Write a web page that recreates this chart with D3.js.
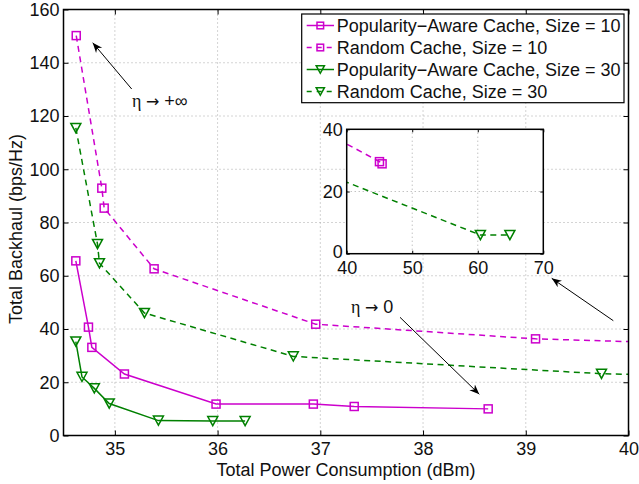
<!DOCTYPE html>
<html><head><meta charset="utf-8">
<script src="https://cdn.jsdelivr.net/npm/d3@7"></script>
<style>body{margin:0;background:#fff}text{font-family:"Liberation Sans",Arial,sans-serif;fill:#111}</style>
</head><body><svg id="c" width="639" height="484"></svg>
<script>
// ---- data ----
const xTicks = [35, 36, 37, 38, 39, 40];
const yTicks = [0, 20, 40, 60, 80, 100, 120, 140, 160];
const insetXTicks = [40, 50, 60, 70];
const insetYTicks = [0, 20, 40];
const popAware10X = [34.62, 34.743, 34.776, 35.093, 35.985, 36.932, 37.33, 38.634];
const popAware10Y = [65.6, 40.7, 33.1, 23.1, 11.8, 11.8, 10.9, 10.0];
const random10X = [34.624, 34.873, 34.896, 35.382, 36.955, 39.095, 45.0, 45.4];
const random10Y = [150.2, 92.9, 85.4, 62.6, 41.8, 36.3, 29.6, 28.9];
const popAware30X = [34.62, 34.68, 34.80, 34.945, 35.424, 35.953, 36.268];
const popAware30Y = [35.3, 22.0, 17.7, 12.0, 5.6, 5.4, 5.4];
const random30X = [34.62, 34.831, 34.85, 35.288, 36.737, 39.737, 60.4, 64.9];
const random30Y = [115.5, 71.9, 64.7, 46.0, 29.7, 23.2, 6.0, 6.0];
const seriesNames = ["Popularity\u2212Aware Cache, Size = 10", "Random Cache, Size = 10",
                     "Popularity\u2212Aware Cache, Size = 30", "Random Cache, Size = 30"];

const MAG = "#cc00cc", GRN = "#008000";
const DASH = "6,4.5";
const series = [
  {name: seriesNames[0], xs: popAware10X, ys: popAware10Y, color: MAG, dash: null, marker: "square"},
  {name: seriesNames[1], xs: random10X, ys: random10Y, color: MAG, dash: DASH, marker: "square"},
  {name: seriesNames[2], xs: popAware30X, ys: popAware30Y, color: GRN, dash: null, marker: "tri"},
  {name: seriesNames[3], xs: random30X, ys: random30Y, color: GRN, dash: DASH, marker: "tri"}
];

const svg = d3.select("#c");
const defs = svg.append("defs");
defs.append("marker").attr("id","ah").attr("viewBox","0 0 10 10").attr("refX",10).attr("refY",5)
  .attr("markerWidth",10).attr("markerHeight",10).attr("markerUnits","userSpaceOnUse").attr("orient","auto")
  .append("path").attr("d","M0,1 L10,5 L0,9 L3,5 Z").attr("fill","#000");

function drawMarker(g, kind, color, x, y, s) {
  if (kind === "square") {
    g.append("rect").attr("x", x - s).attr("y", y - s).attr("width", 2*s).attr("height", 2*s)
      .attr("fill","none").attr("stroke",color).attr("stroke-width",1.5);
  } else {
    const w = s*1.25, h = s*1.15;
    g.append("path").attr("d",`M${x-w},${y-h} L${x+w},${y-h} L${x},${y+h} Z`)
      .attr("fill","none").attr("stroke",color).attr("stroke-width",1.5);
  }
}

function drawAxes(opt) {
  const {x, y, xt, yt, clipId, tickLen, data, xPad} = opt;
  const [x0, x1] = x.range(), [y0, y1] = y.range();
  const g = svg.append("g");
  g.append("rect").attr("x",x0).attr("y",y1).attr("width",x1-x0).attr("height",y0-y1).attr("fill","#fff");
  defs.append("clipPath").attr("id",clipId).append("rect")
    .attr("x",x0).attr("y",y1).attr("width",x1-x0).attr("height",y0-y1);
  // grid
  xt.forEach(v => { if (v > x.domain()[0] && v < x.domain()[1])
    g.append("line").attr("x1",x(v)).attr("x2",x(v)).attr("y1",y0).attr("y2",y1)
      .attr("stroke","#a8a8a8").attr("stroke-width",1).attr("stroke-dasharray","1,3"); });
  yt.forEach(v => { if (v > y.domain()[0] && v < y.domain()[1])
    g.append("line").attr("x1",x0).attr("x2",x1).attr("y1",y(v)).attr("y2",y(v))
      .attr("stroke","#a8a8a8").attr("stroke-width",1).attr("stroke-dasharray","1,3"); });
  // data
  const dg = g.append("g").attr("clip-path",`url(#${clipId})`);
  const [dx0, dx1] = x.domain(), [dy0, dy1] = y.domain();
  data.forEach(s => {
    const pts = s.xs.map((v,i)=>[v, s.ys[i]]);
    dg.append("path").attr("d", d3.line().x(d=>x(d[0])).y(d=>y(d[1]))(pts))
      .attr("fill","none").attr("stroke",s.color).attr("stroke-width",1.5)
      .attr("stroke-dasharray", s.dash);
    pts.filter(p => p[0] >= dx0 && p[0] <= dx1 && p[1] >= dy0 && p[1] <= dy1)
      .forEach(p => drawMarker(dg, s.marker, s.color, x(p[0]), y(p[1]), 4));
  });
  // axes (ticks inward on all sides)
  const axB = g.append("g").attr("transform",`translate(0,${y0})`)
    .call(d3.axisBottom(x).tickValues(xt).tickSizeInner(-tickLen).tickSizeOuter(0).tickPadding(xPad).tickFormat(d3.format("d")));
  const axT = g.append("g").attr("transform",`translate(0,${y1})`)
    .call(d3.axisTop(x).tickValues(xt).tickSizeInner(-tickLen).tickSizeOuter(0).tickFormat(""));
  const axL = g.append("g").attr("transform",`translate(${x0},0)`)
    .call(d3.axisLeft(y).tickValues(yt).tickSizeInner(-tickLen).tickSizeOuter(0).tickPadding(4).tickFormat(d3.format("d")));
  const axR = g.append("g").attr("transform",`translate(${x1},0)`)
    .call(d3.axisRight(y).tickValues(yt).tickSizeInner(-tickLen).tickSizeOuter(0).tickFormat(""));
  [axB,axT,axL,axR].forEach(a => {
    a.select(".domain").remove();
    a.selectAll("line").attr("stroke","#000").attr("stroke-width",1);
    a.selectAll("text").attr("font-size",18).attr("font-family","Liberation Sans, Arial, sans-serif").attr("fill","#111");
  });
  axB.selectAll("text").attr("dy","0.71em");
  g.append("rect").attr("x",x0).attr("y",y1).attr("width",x1-x0).attr("height",y0-y1)
    .attr("fill","none").attr("stroke","#000").attr("stroke-width",1.5);
  return {g, axL};
}

// main
const x = d3.scaleLinear().domain([34.5, 40]).range([63.5, 628.5]);
const y = d3.scaleLinear().domain([0, 160]).range([435.5, 9.5]);
drawAxes({x, y, xt: xTicks, yt: yTicks, clipId: "clipMain", tickLen: 5, data: series, xPad: 7});

// axis labels
svg.append("text").attr("x", 346).attr("y", 476).attr("text-anchor","middle").attr("font-size",18)
  .attr("fill","#222").text("Total Power Consumption (dBm)");
svg.append("text").attr("transform","translate(22,229) rotate(-90)").attr("text-anchor","middle")
  .attr("font-size",18).attr("fill","#222").text("Total Backhaul (bps/Hz)");

// annotations
function eta(xp, yp, rest) {
  const t = svg.append("text").attr("x",xp).attr("y",yp).attr("font-size",18);
  t.append("tspan").attr("font-family","Liberation Serif, serif").text("\u03B7 ");
  t.append("tspan").attr("font-family","DejaVu Sans, sans-serif").attr("font-size",16).text("\u2192");
  t.append("tspan").text(" " + rest);
}
eta(132, 107, "+\u221E");
eta(351, 313, "0");
const arrows = [[131.7, 89, 92.7, 42.7], [400, 317.3, 479.3, 394.3], [613.3, 320.7, 551.7, 278.3]];
arrows.forEach(a => svg.append("line").attr("x1",a[0]).attr("y1",a[1]).attr("x2",a[2]).attr("y2",a[3])
  .attr("stroke","#000").attr("stroke-width",1).attr("marker-end","url(#ah)"));

// inset
const xi = d3.scaleLinear().domain([40, 70]).range([346.7, 543.3]);
const yi = d3.scaleLinear().domain([0, 40]).range([253.7, 129.3]);
const ins = drawAxes({x: xi, y: yi, xt: insetXTicks, yt: insetYTicks, clipId: "clipInset", tickLen: 3,
  data: series.filter(s => s.dash), xPad: 8});
ins.axL.selectAll("text").filter(d => d === 0).attr("dy", "0.2em");

// legend
const lg = svg.append("g");
lg.append("rect").attr("x",301.7).attr("y",14).attr("width",322.3).attr("height",88.7)
  .attr("fill","#fff").attr("stroke","#000").attr("stroke-width",1.2);
series.forEach((s, i) => {
  const cy = 25.5 + i * 22;
  lg.append("line").attr("x1",306.7).attr("x2",334).attr("y1",cy).attr("y2",cy)
    .attr("stroke",s.color).attr("stroke-width",1.5).attr("stroke-dasharray", s.dash ? "5,5" : null);
  drawMarker(lg, s.marker, s.color, 320.3, cy, 3.3);
  lg.append("text").attr("x",336.7).attr("y",cy).attr("dy","0.35em").attr("font-size",18).text(s.name);
});
</script></body></html>
